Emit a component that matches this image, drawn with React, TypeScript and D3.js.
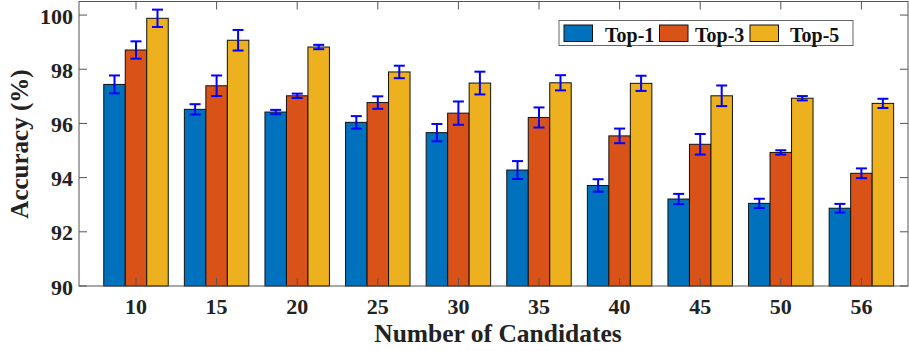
import { useEffect, useRef } from "react";
import { scaleBand, scaleLinear, select } from "d3";

const categories = ["10", "15", "20", "25", "30", "35", "40", "45", "50", "56"];
const seriesNames = ["Top-1", "Top-3", "Top-5"];
const top1 = [97.44, 96.52, 96.42, 96.04, 95.66, 94.28, 93.71, 93.21, 93.05, 92.87];
const top3 = [98.71, 97.39, 97.02, 96.77, 96.38, 96.22, 95.54, 95.23, 94.93, 94.16];
const top5 = [99.88, 99.07, 98.82, 97.9, 97.49, 97.5, 97.48, 97.02, 96.93, 96.74];
const top1Err = [0.33, 0.19, 0.08, 0.23, 0.32, 0.33, 0.23, 0.19, 0.17, 0.16];
const top3Err = [0.32, 0.38, 0.08, 0.23, 0.43, 0.37, 0.27, 0.38, 0.08, 0.18];
const top5Err = [0.32, 0.38, 0.08, 0.23, 0.42, 0.28, 0.28, 0.38, 0.08, 0.17];
const yTicks = [90, 92, 94, 96, 98, 100];
const colors = ["#0072BD", "#D95319", "#EDB120"];

const FONT = "'Liberation Serif', 'Times New Roman', serif";

export default function App() {
    const svgRef = useRef<SVGSVGElement>(null);

    useEffect(() => {
        const svg = select(svgRef.current);
        svg.selectAll("*").remove();

        const left = 79, right = 908, top = 1.5, bottom = 286;

        const yScale = scaleLinear().domain([90, 100.5]).range([bottom, top]);
        const xScale = scaleBand()
            .domain(categories)
            .range([95.7, 901.7])
            .paddingInner(0.2)
            .paddingOuter(0.1);
        const inner = scaleBand()
            .domain(seriesNames)
            .range([0, xScale.bandwidth()]);

        const values = [top1, top3, top5];
        const errs = [top1Err, top3Err, top5Err];

        const rows = categories.flatMap((c, i) =>
            seriesNames.map((s, k) => ({ c, s, k, v: values[k][i], e: errs[k][i] }))
        );

        // bars
        svg.selectAll(".bar")
            .data(rows)
            .join("rect")
            .attr("class", "bar")
            .attr("x", d => xScale(d.c)! + inner(d.s)!)
            .attr("y", d => yScale(d.v))
            .attr("width", inner.bandwidth())
            .attr("height", d => bottom - yScale(d.v))
            .attr("fill", d => colors[d.k])
            .attr("stroke", "#111")
            .attr("stroke-width", 1);

        // error bars
        const eb = svg.selectAll(".err")
            .data(rows)
            .join("g")
            .attr("class", "err")
            .attr("stroke", "#0000FF")
            .attr("stroke-width", 2)
            .attr("transform", d => `translate(${xScale(d.c)! + inner(d.s)! + inner.bandwidth() / 2},0)`);
        eb.append("line")
            .attr("y1", d => yScale(d.v - d.e))
            .attr("y2", d => yScale(d.v + d.e));
        eb.append("line")
            .attr("x1", -5.5).attr("x2", 5.5)
            .attr("y1", d => yScale(d.v + d.e))
            .attr("y2", d => yScale(d.v + d.e));
        eb.append("line")
            .attr("x1", -5.5).attr("x2", 5.5)
            .attr("y1", d => yScale(d.v - d.e))
            .attr("y2", d => yScale(d.v - d.e));

        // frame
        svg.append("rect")
            .attr("x", left).attr("y", top)
            .attr("width", right - left).attr("height", bottom - top)
            .attr("fill", "none")
            .attr("stroke", "#555")
            .attr("stroke-width", 1);

        // y ticks
        yTicks.forEach(t => {
            svg.append("line").attr("x1", left).attr("x2", left + 8)
                .attr("y1", yScale(t)).attr("y2", yScale(t)).attr("stroke", "#555");
            svg.append("line").attr("x1", right).attr("x2", right - 8)
                .attr("y1", yScale(t)).attr("y2", yScale(t)).attr("stroke", "#555");
            svg.append("text")
                .attr("x", 73).attr("y", yScale(t) + 8.5)
                .attr("text-anchor", "end")
                .attr("font-family", FONT).attr("font-weight", "bold")
                .attr("font-size", 22).attr("fill", "#222")
                .text(t);
        });

        // x ticks
        categories.forEach(c => {
            const cx = xScale(c)! + xScale.bandwidth() / 2;
            svg.append("line").attr("x1", cx).attr("x2", cx)
                .attr("y1", bottom).attr("y2", bottom - 8).attr("stroke", "#555");
            svg.append("line").attr("x1", cx).attr("x2", cx)
                .attr("y1", top).attr("y2", top + 8).attr("stroke", "#555");
            svg.append("text")
                .attr("x", cx).attr("y", 314)
                .attr("text-anchor", "middle")
                .attr("font-family", FONT).attr("font-weight", "bold")
                .attr("font-size", 22).attr("fill", "#222")
                .text(c);
        });

        // axis titles
        svg.append("text")
            .attr("x", 498).attr("y", 342)
            .attr("text-anchor", "middle")
            .attr("font-family", FONT).attr("font-weight", "bold")
            .attr("font-size", 25.5).attr("fill", "#222")
            .text("Number of Candidates");
        svg.append("text")
            .attr("transform", "translate(28,144) rotate(-90)")
            .attr("text-anchor", "middle")
            .attr("font-family", FONT).attr("font-weight", "bold")
            .attr("font-size", 25).attr("fill", "#222")
            .text("Accuracy (%)");

        // legend
        const lg = svg.append("g");
        lg.append("rect")
            .attr("x", 559).attr("y", 20.5).attr("width", 294).attr("height", 25)
            .attr("fill", "#fff").attr("stroke", "#666");
        const patchX = [564, 659.5, 750];
        const textX = [605, 695, 790];
        seriesNames.forEach((s, k) => {
            lg.append("rect")
                .attr("x", patchX[k]).attr("y", 25).attr("width", 28.5).attr("height", 16.5)
                .attr("fill", colors[k]).attr("stroke", "#111");
            lg.append("text")
                .attr("x", textX[k]).attr("y", 41.5)
                .attr("font-family", FONT).attr("font-weight", "bold")
                .attr("font-size", 20).attr("fill", "#111")
                .text(s);
        });
    }, []);

    return (
        <svg ref={svgRef} width={909} height={351}
            style={{ position: "absolute", left: 0, top: 0, background: "#fff" }} />
    );
}
